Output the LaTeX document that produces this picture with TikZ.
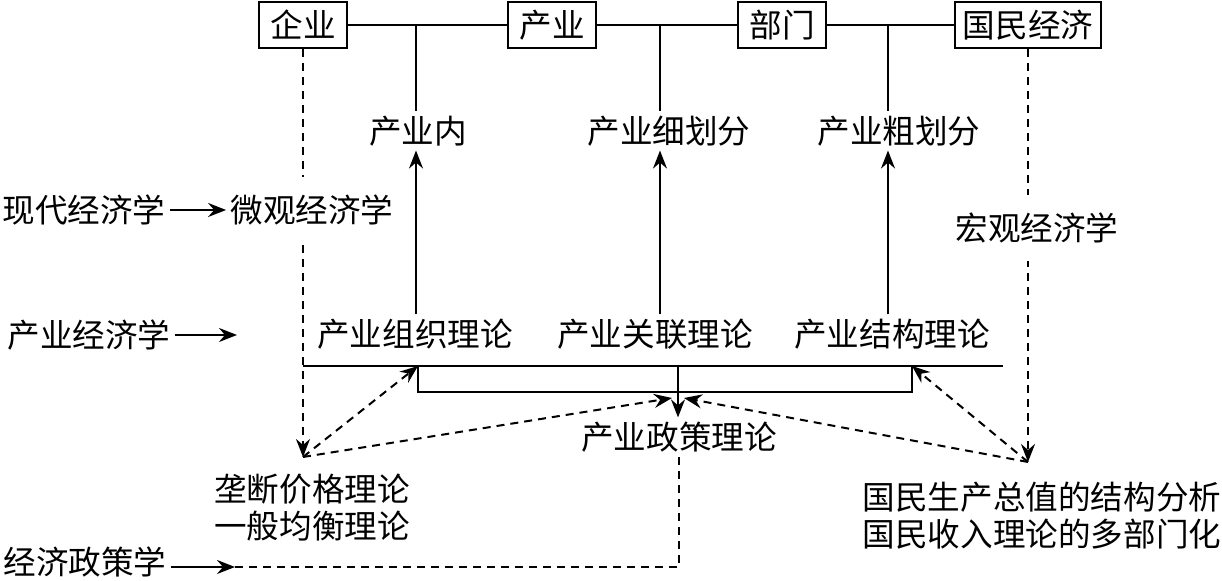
\documentclass[tikz,border=0pt]{standalone}
\usepackage{fontspec}
\setmainfont{Noto Sans CJK SC}
\usetikzlibrary{arrows.meta,positioning,backgrounds}

\begin{document}
\begin{tikzpicture}[
    x=0.5pt, y=-0.5pt,
    box/.style={rectangle, draw=black, line width=1pt, minimum width=44pt, minimum height=23pt, inner xsep=4pt, font=\fontsize{16.3}{16.5}\selectfont},
    txt/.style={inner sep=2pt, font=\fontsize{16.3}{16.5}\selectfont},
    txtb/.style={inner sep=2pt, align=left, font=\fontsize{16.3}{18.5}\selectfont},
    cover/.style={fill=white, inner ysep=9pt},
    line/.style={line width=1pt},
    arrow/.style={line width=1pt,->,>={Stealth[length=9pt,width=7pt,inset=3pt]}},
    darrow/.style={line width=1pt,->,>={Stealth[length=9pt,width=7pt,inset=3pt]}, dash pattern=on 4pt off 3pt}
]
\useasboundingbox (0,0) rectangle (1222,581);

% 第一层：范围
\node (qiye) [box] at (303,25) {企业};
\node (chanye) [box] at (552,25) {产业};
\node (bumen) [box] at (782,25) {部门};
\node (guomin) [box] at (1028,25) {国民经济};

% 分界点
\coordinate (c1) at (416,25);
\coordinate (c2) at (660,25);
\coordinate (c3) at (888,25);

% 第二层：划分
\node (cyn) [txt] at (418,131) {产业内};
\node (xhf) [txt] at (669,131) {产业细划分};
\node (chf) [txt] at (899,131) {产业粗划分};

% 第三层：经济学
\node (xdjj) [txt] at (84,210) {现代经济学};
\node (wgjj) [txt, cover] at (312,210) {微观经济学};
\node (hgjj) [txt, cover] at (1037,228) {宏观经济学};

% 第四层：产业经济学
\node (cyjj) [txt] at (89,335) {产业经济学};
\coordinate (cyjjend) at (237,335);
\node (zzll) [txt] at (415,334) {产业组织理论};
\node (glll) [txt] at (655,334) {产业关联理论};
\node (jgll) [txt] at (892,334) {产业结构理论};

% 横线与括号
\coordinate (hl) at (303,366);
\coordinate (hr) at (1003,366);
\coordinate (bl) at (418,366);
\coordinate (br) at (912,366);
\coordinate (bm) at (678,366);
\coordinate (bdl) at (418,392);
\coordinate (bdr) at (912,392);

% 第五层：产业政策理论
\node (zcll) [txt] at (679,437) {产业政策理论};
\coordinate (lp) at (303,457);
\coordinate (rp) at (1028,462);
\coordinate (zl) at (672,398);
\coordinate (zr) at (684,398);

% 第六层：相关理论
\node (ldjg) [txtb] at (312,508) {垄断价格理论\\一般均衡理论};
\node (gmsc) [txtb] at (1042,516) {国民生产总值的结构分析\\国民收入理论的多部门化};

% 第七层：经济政策学
\node (jjzc) [txt] at (85,562) {经济政策学};
\coordinate (jjzcend) at (235,567);
\coordinate (zcbot) at (679,567);

% 绘制连线
\draw [line] (qiye) -- (chanye) -- (bumen) -- (guomin);
\draw [line] (c1) -- (cyn.north -| c1);
\draw [line] (c2) -- (xhf.north -| c2);
\draw [line] (c3) -- (chf.north -| c3);
\draw [arrow] (zzll.north -| c1) -- (cyn.south -| c1);
\draw [arrow] (glll.north -| c2) -- (xhf.south -| c2);
\draw [arrow] (jgll.north -| c3) -- (chf.south -| c3);
\draw [arrow] (xdjj) -- (wgjj.west |- xdjj);
\draw [arrow] (cyjj) -- (cyjjend);
\draw [line] (hl) -- (hr);
\draw [line] (bl) -- (bdl) -- (bdr) -- (br);
\draw [arrow] (bm) -- (zcll.north -| bm);
\begin{scope}[on background layer]
\draw [darrow] (qiye) -- (lp);
\draw [darrow] (guomin) -- (rp);
\end{scope}
\draw [darrow] (lp) -- (bl);
\draw [darrow] (lp) -- (zl);
\draw [darrow] (rp) -- (br);
\draw [darrow] (rp) -- (zr);
\draw [arrow] (jjzc.east |- jjzcend) -- (jjzcend);
\draw [line, dash pattern=on 4pt off 3pt] (jjzcend) -- (zcbot) -- (zcll.south -| zcbot);

\end{tikzpicture}
\end{document}
